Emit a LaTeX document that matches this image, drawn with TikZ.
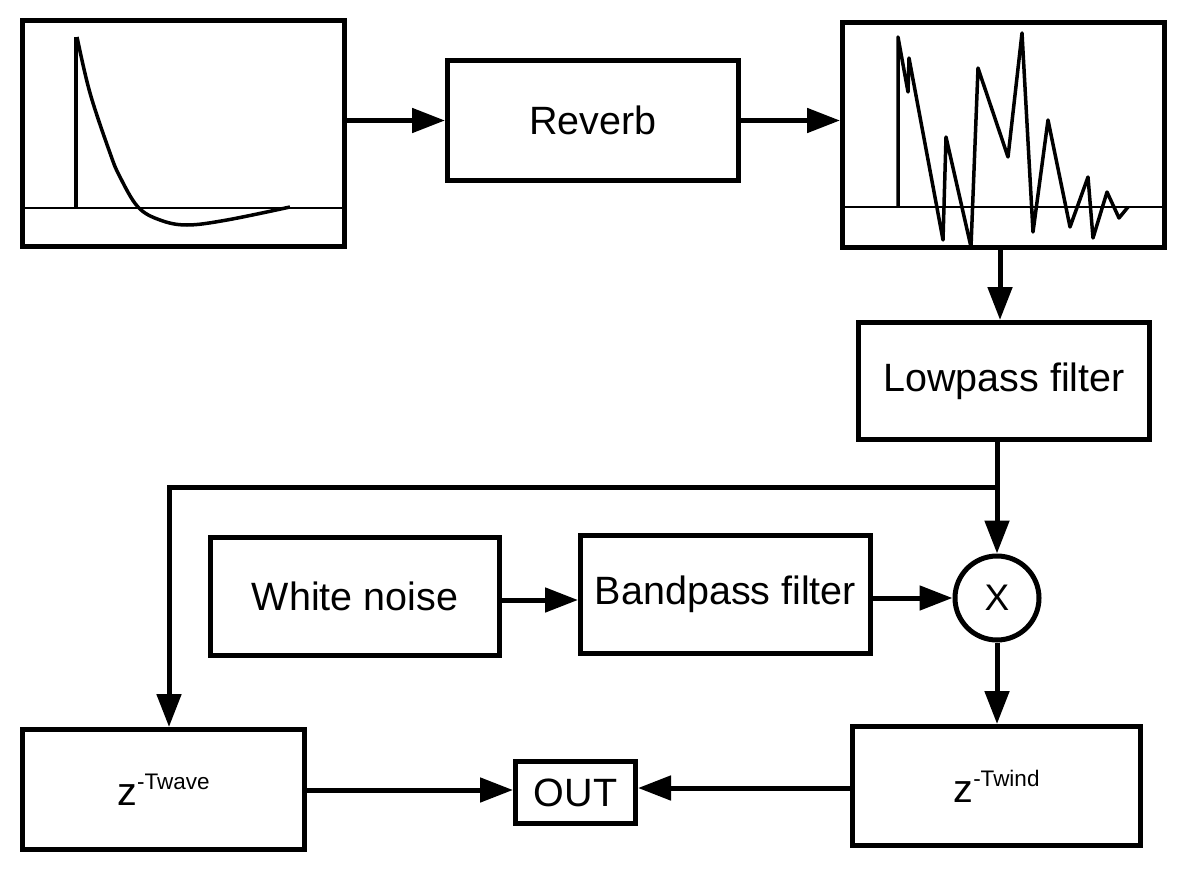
\documentclass[tikz,border=0pt]{standalone}
\usepackage{fontspec}
\setmainfont{Liberation Sans}
\usetikzlibrary{arrows.meta}
\begin{document}
\begin{tikzpicture}[x=1pt,y=-1pt,
  box/.style={draw,line width=5pt,rectangle,inner sep=0pt,font=\fontsize{39.5}{44}\selectfont},
  arr/.style={line width=5pt,-{Triangle[length=33pt,width=24pt]}},
  conn/.style={line width=5pt},
  sig/.style={line width=3.5pt,line join=round},
  axis/.style={line width=2pt}]
\useasboundingbox (0,0) rectangle (1183,872);
% boxes
\node[box,minimum width=322pt,minimum height=226pt] (plotL) at (183.5,133.5) {};
\node[box,minimum width=291pt,minimum height=120pt] (reverb) at (593,120.5) {Reverb};
\node[box,minimum width=322pt,minimum height=225pt] (plotR) at (1003.5,135) {};
\node[box,minimum width=291pt,minimum height=117pt] (lowpass) at (1004,381) {Lowpass filter};
\node[box,minimum width=289pt,minimum height=118pt] (white) at (355,596.5) {White noise};
\node[box,minimum width=290pt,minimum height=118pt] (bandpass) at (725.5,594.5) {\raisebox{-3pt}{Bandpass filter}};
\node[box,circle,minimum size=84pt,font=\fontsize{37}{40}\selectfont] (mult) at (997,598) {X};
\node[box,minimum width=282pt,minimum height=120pt] (zwave) at (163.5,789.5) {z\raisebox{0.4em}{\fontsize{22.5}{24}\selectfont -Twave}};
\node[box,minimum width=120pt,minimum height=62pt] (out) at (575.5,792.5) {OUT};
\node[box,minimum width=288pt,minimum height=119pt] (zwind) at (996.5,786) {z\raisebox{0.4em}{\fontsize{22.5}{24}\selectfont -Twind}};
% left plot contents
\draw[axis] (23,208) -- (344,208);
\draw[sig] (76,208) -- (76,37);
\draw[sig] plot[smooth,tension=0.6] coordinates {(77,37) (90,93) (110,153) (120,177) (138,207) (160,220) (187,225) (227,220) (290,207)};
% right plot contents
\draw[axis] (843,207) -- (1164,207);
\draw[sig] (898,207) -- (898,37) -- (908,92) -- (909,58) -- (943,240) -- (946,137) -- (971,247) -- (978,68) -- (1008,157) -- (1022,33) -- (1033,232) -- (1048,120) -- (1070,227) -- (1088,177) -- (1093,238) -- (1107,192) -- (1119,218) -- (1128,207);
% connectors
\draw[arr] (plotL.east |- reverb.west) -- (reverb.west);
\draw[arr] (reverb.east) -- (reverb.east -| plotR.west);
\draw[arr] ([xshift=-4pt]plotR.south -| lowpass.north) -- ([xshift=-4pt]lowpass.north);
\draw[arr] (lowpass.south -| mult.north) -- (mult.north);
\coordinate (br) at (997,487);
\coordinate (brL) at (169,487);
\draw[arr] (br) -- (brL) -- (brL |- zwave.north);
\draw[arr] (white.east |- 0,600) -- (bandpass.west |- 0,600);
\draw[arr] (bandpass.east |- mult.west) -- (mult.west);
\draw[arr] (mult.south) -- (mult.south |- zwind.north);
\draw[arr] (zwave.east |- 0,790) -- (out.west |- 0,790);
\draw[arr] (zwind.west |- 0,788) -- (out.east |- 0,788);
\end{tikzpicture}
\end{document}
